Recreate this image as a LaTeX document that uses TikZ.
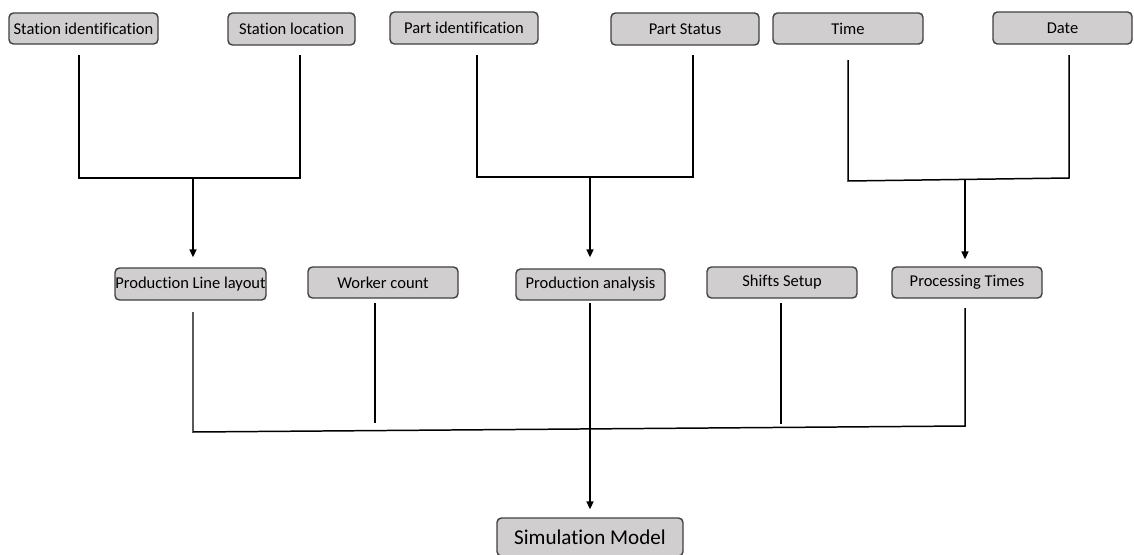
\documentclass[tikz,border=0pt]{standalone}
\usepackage{fontspec}
\setmainfont{Carlito}[Ligatures=NoCommon]
\usetikzlibrary{arrows.meta,calc}
\definecolor{boxgrey}{HTML}{D0CECE}
\definecolor{boxline}{HTML}{404040}
\tikzset{
  databox/.style={draw=boxline, fill=boxgrey, rounded corners=2.5pt, line width=0.8pt,
    inner sep=0pt, font=\fontsize{9.4}{11}\selectfont},
  link/.style={line width=0.85pt},
  arrowlink/.style={link, -{Triangle[length=4.5pt,width=4pt]}}
}
\begin{document}
\begin{tikzpicture}[x=0.02cm, y=-0.02cm]
\useasboundingbox (0,0) rectangle (1134,555);

% Top row
\node[databox, minimum width=149*0.02cm, minimum height=31*0.02cm] (sid) at (83.5,28.5) {Station identification};
\node[databox, minimum width=127*0.02cm, minimum height=32*0.02cm] (sloc) at (291.5,29) {Station location};
\node[databox, minimum width=148*0.02cm, minimum height=32*0.02cm] (pid) at (464,28) {Part identification};
\node[databox, minimum width=148*0.02cm, minimum height=32*0.02cm] (pst) at (685,29) {Part Status};
\node[databox, minimum width=150*0.02cm, minimum height=31*0.02cm] (tim) at (848,28.5) {Time};
\node[databox, minimum width=139*0.02cm, minimum height=32*0.02cm] (dat) at (1062.5,28) {Date};

% Middle row
\node[databox, minimum width=151*0.02cm, minimum height=32*0.02cm] (pll) at (190.5,284) {Production Line layout};
\node[databox, minimum width=150*0.02cm, minimum height=31*0.02cm] (wc) at (383,282.5) {Worker count};
\node[databox, minimum width=149*0.02cm, minimum height=31*0.02cm] (pa) at (590.5,284.5) {Production analysis};
\node[databox, minimum width=150*0.02cm, minimum height=31*0.02cm] (ss) at (782,282.5) {Shifts Setup};
\node[databox, minimum width=150*0.02cm, minimum height=31*0.02cm] (pt) at (967,282.5) {Processing Times};

% Bottom
\node[databox, minimum width=186*0.02cm, minimum height=38*0.02cm, font=\fontsize{12}{14}\selectfont] (sm) at (590,537) {Simulation Model};

% Station group
\coordinate (sid-o) at (79,55);
\coordinate (sloc-o) at (300,55);
\coordinate (st-j) at (193,178);
\draw[link] (sid-o) |- (st-j) -| (sloc-o);
\draw[arrowlink] (st-j) -- ($(st-j |- pll.north)+(0,-10)$);

% Part group
\coordinate (pid-o) at (477,55);
\coordinate (pst-o) at (693,55);
\coordinate (pa-j) at (590,177);
\draw[link] (pid-o) |- (pa-j) -| (pst-o);
\draw[arrowlink] (pa-j) -- ($(pa-j |- pa.north)+(0,-11)$);

% Time group
\coordinate (tim-o) at (848,60);
\coordinate (tim-c) at (848,181);
\coordinate (dat-c) at (1069,178);
\coordinate (dat-o) at (1069,55);
\coordinate (tm-j) at (965,179.5);
\draw[link] (tim-o) -- (tim-c) -- (dat-c) -- (dat-o);
\draw[arrowlink] (tm-j) -- ($(tm-j |- pt.north)+(0,-7)$);

% Middle row to model
\coordinate (pll-o) at (193,312);
\coordinate (pll-c) at (193,432);
\coordinate (pt-c) at (965,426);
\coordinate (pt-o) at (965,308);
\draw[link] (pll-o) -- (pll-c) -- (pt-c) -- (pt-o);
\draw[link] (375,303) -- (375,423);
\draw[link] (781,303) -- (781,424);
\coordinate (sm-j) at (590,429.5);
\draw[link] (590,303) -- (sm-j);
\draw[arrowlink] (sm-j) -- ($(sm-j |- sm.north)+(0,-8)$);
\end{tikzpicture}
\end{document}
